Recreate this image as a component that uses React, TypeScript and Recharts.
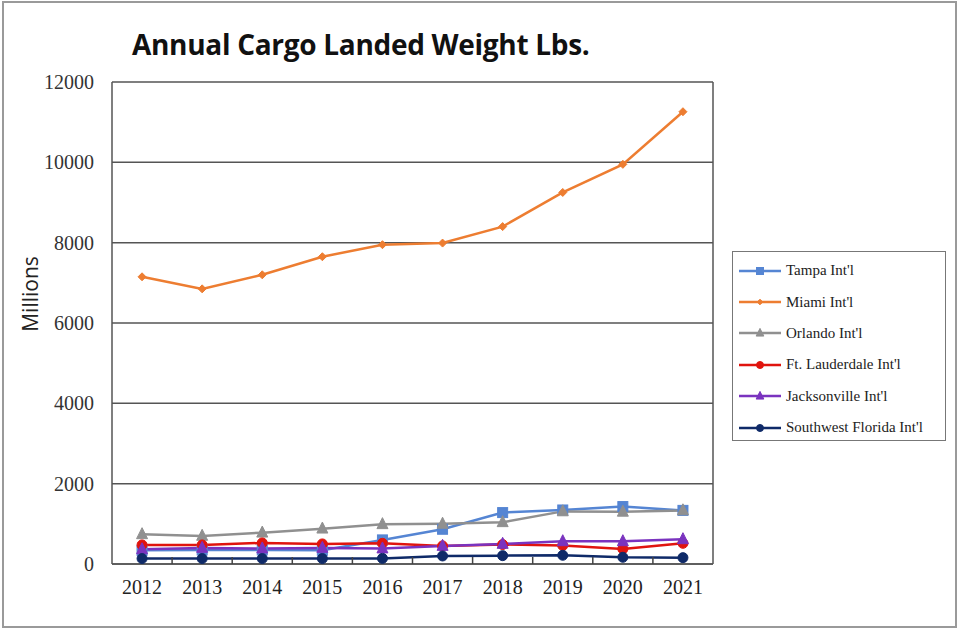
import React from 'react';
import { LineChart, Line, XAxis, YAxis, CartesianGrid, Legend } from 'recharts';

const years = ['2012', '2013', '2014', '2015', '2016', '2017', '2018', '2019', '2020', '2021'];
const tampa = [340, 350, 350, 340, 600, 865, 1280, 1345, 1430, 1335];
const miami = [7150, 6850, 7200, 7650, 7950, 7990, 8400, 9250, 9950, 11260];
const orlando = [740, 700, 780, 880, 990, 1000, 1040, 1310, 1300, 1335];
const lauderdale = [475, 475, 525, 500, 515, 450, 485, 460, 375, 515];
const jacksonville = [365, 400, 385, 400, 385, 450, 500, 565, 565, 615];
const swFlorida = [135, 135, 135, 135, 140, 200, 208, 217, 167, 158];
const yTicks = [0, 2000, 4000, 6000, 8000, 10000, 12000];

const series = [
  { key: 'tampa', name: "Tampa Int'l", color: '#5585D3', shape: 'square', values: tampa },
  { key: 'miami', name: "Miami Int'l", color: '#ED7D31', shape: 'diamond', values: miami },
  { key: 'orlando', name: "Orlando Int'l", color: '#909090', shape: 'triangle', values: orlando },
  { key: 'lauderdale', name: "Ft. Lauderdale Int'l", color: '#E0140E', shape: 'circle', values: lauderdale },
  { key: 'jacksonville', name: "Jacksonville Int'l", color: '#7A33BF', shape: 'triangle', values: jacksonville },
  { key: 'swFlorida', name: "Southwest Florida Int'l", color: '#0F2A68', shape: 'circle', values: swFlorida },
];

const data = years.map((y, i) => {
  const row: any = { year: y };
  series.forEach((s) => (row[s.key] = s.values[i]));
  return row;
});

const W = 959;
const H = 630;
const PLOT_L = 112;
const PLOT_R = 713;
const PLOT_T = 82;
const PLOT_B = 564;
const HALF_BAND = (PLOT_R - PLOT_L) / years.length / 2;
const X_TICK_MARGIN = 14;

function Marker({ shape, cx, cy, color, size }: any) {
  if (cx == null || cy == null) return null;
  const s = size;
  if (shape === 'square') {
    return <rect x={cx - s} y={cy - s} width={2 * s} height={2 * s} fill={color} stroke={color} />;
  }
  if (shape === 'diamond') {
    return (
      <polygon
        points={`${cx},${cy - s} ${cx + s},${cy} ${cx},${cy + s} ${cx - s},${cy}`}
        fill={color}
        stroke={color}
      />
    );
  }
  if (shape === 'triangle') {
    return (
      <polygon
        points={`${cx},${cy - s * 1.2} ${cx + s},${cy + s * 0.8} ${cx - s},${cy + s * 0.8}`}
        fill={color}
        stroke={color}
      />
    );
  }
  return <circle cx={cx} cy={cy} r={s} fill={color} stroke={color} />;
}

const dotSize: Record<string, number> = {
  square: 5,
  diamond: 4,
  triangle: 5.5,
  circle: 5,
};

function XTick(props: any) {
  const { x, y, payload, index } = props;
  const axisY = y - X_TICK_MARGIN;
  return (
    <g>
      <text
        x={x}
        y={y}
        dy="0.78em"
        textAnchor="middle"
        fontFamily="'Liberation Serif', serif"
        fontSize={20}
        fill="#222"
      >
        {payload.value}
      </text>
      {index < years.length - 1 && (
        <line x1={x + HALF_BAND} x2={x + HALF_BAND} y1={axisY} y2={axisY - 7} stroke="#444" strokeWidth={1.5} />
      )}
    </g>
  );
}

function LegendBox(props: any) {
  const payload: any[] = props.payload || [];
  const ordered = series
    .map((s) => ({ s, p: payload.find((p: any) => p.dataKey === s.key) }))
    .filter((e) => e.p);
  return (
    <div
      style={{
        width: 214,
        height: 190,
        border: '1.5px solid #777',
        boxSizing: 'border-box',
        background: '#fff',
        paddingTop: 3,
      }}
    >
      {ordered.map(({ s, p }) => (
        <div key={s.key} style={{ display: 'flex', alignItems: 'center', height: 31.4 }}>
          <svg width={48} height={14} style={{ marginLeft: 5 }}>
            <line x1={1} x2={43} y1={7} y2={7} stroke={s.color} strokeWidth={2.5} />
            <Marker shape={s.shape} cx={22} cy={7} color={s.color} size={dotSize[s.shape] * 0.7} />
          </svg>
          <span
            style={{
              fontFamily: "'Liberation Serif', serif",
              fontSize: 15,
              color: '#222',
              whiteSpace: 'nowrap',
            }}
          >
            {p.value}
          </span>
        </div>
      ))}
    </div>
  );
}

export default function App() {
  return (
    <div
      style={{
        position: 'absolute',
        left: 0,
        top: 0,
        width: W,
        height: H,
        background: '#fff',
      }}
    >
      <div
        style={{
          position: 'absolute',
          left: 2,
          top: 1,
          width: 955,
          height: 627,
          border: '2px solid #9a9a9a',
          boxSizing: 'border-box',
        }}
      />
      <div
        style={{
          position: 'absolute',
          left: 132,
          top: 25,
          fontFamily: "'Open Sans', sans-serif",
          fontWeight: 700,
          fontSize: 28,
          lineHeight: '38px',
          color: '#111',
          whiteSpace: 'nowrap',
          letterSpacing: -0.3,
        }}
      >
        Annual Cargo Landed Weight Lbs.
      </div>
      <div
        style={{
          position: 'absolute',
          left: 30,
          top: 294,
          transform: 'translate(-50%, -50%) rotate(-90deg)',
          fontFamily: "'Open Sans', sans-serif",
          fontSize: 21,
          color: '#222',
          whiteSpace: 'nowrap',
        }}
      >
        Millions
      </div>
      <LineChart
        width={W}
        height={H}
        data={data}
        margin={{ top: PLOT_T, right: W - PLOT_R - 10, bottom: H - PLOT_B - 60, left: PLOT_L - 70 }}
        style={{ position: 'absolute', left: 0, top: 0 }}
      >
        <CartesianGrid horizontal vertical={false} stroke="#555" strokeWidth={1.5} />
        <XAxis
          dataKey="year"
          height={60}
          padding={{ left: HALF_BAND, right: HALF_BAND }}
          tickLine={false}
          tickSize={0}
          tickMargin={X_TICK_MARGIN}
          axisLine={{ stroke: '#555', strokeWidth: 1.5 }}
          tick={<XTick />}
          interval={0}
        />
        <YAxis
          width={70}
          domain={[0, 12000]}
          ticks={yTicks}
          interval={0}
          tickLine={false}
          tickSize={0}
          tickMargin={18}
          axisLine={{ stroke: '#555', strokeWidth: 1.5 }}
          tick={{ fontFamily: "'Liberation Serif', serif", fontSize: 20, fill: '#333' }}
        />
        <YAxis
          yAxisId="right"
          orientation="right"
          width={10}
          domain={[0, 12000]}
          tick={false}
          tickLine={false}
          axisLine={{ stroke: '#555', strokeWidth: 1.5 }}
        />
        <Legend
          layout="vertical"
          align="center"
          verticalAlign="middle"
          content={<LegendBox />}
          wrapperStyle={{ left: 732, top: 251, width: 214, height: 190 }}
        />
        {series.map((s) => (
          <Line
            key={s.key}
            dataKey={s.key}
            name={s.name}
            stroke={s.color}
            strokeWidth={2.5}
            isAnimationActive={false}
            dot={(p: any) => (
              <Marker key={`${s.key}-${p.index}`} shape={s.shape} cx={p.cx} cy={p.cy} color={s.color} size={dotSize[s.shape]} />
            )}
            activeDot={false}
          />
        ))}
      </LineChart>
    </div>
  );
}
